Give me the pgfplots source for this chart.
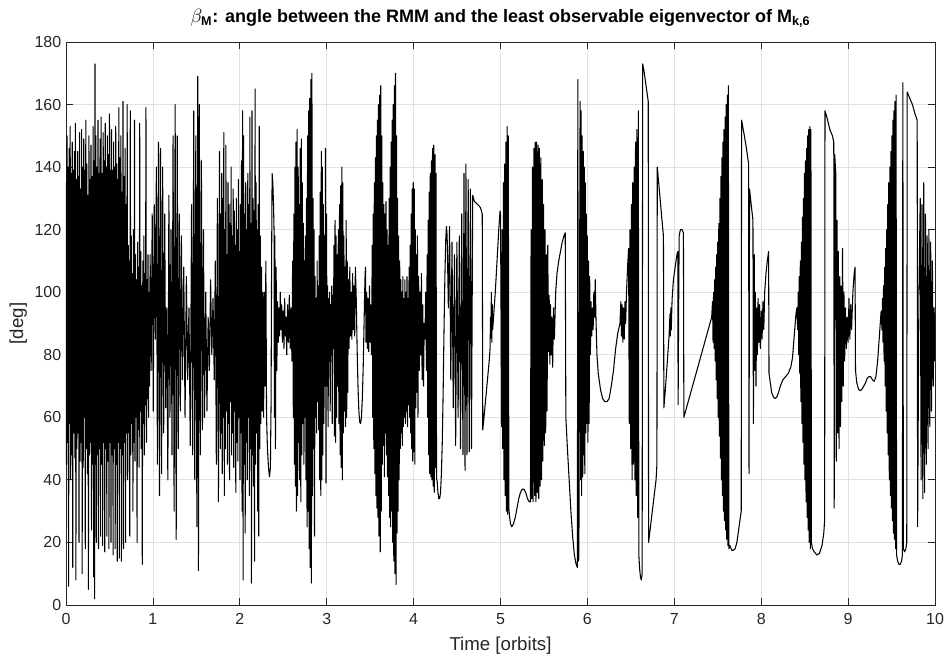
\documentclass[border=0pt]{standalone}
\usepackage{fontspec}
\setmainfont{Liberation Sans}
\usepackage{amsmath}
\usepackage{pgfplots}
\pgfplotsset{compat=1.18}
\definecolor{axgray}{RGB}{38,38,38}
\definecolor{gridgray}{RGB}{225,225,225}
\begin{document}
\begin{tikzpicture}
\begin{axis}[
  scale only axis, width=651.75pt, height=422.25pt,
  xmin=0, xmax=10, ymin=0, ymax=180,
  xtick={0,1,...,10}, ytick={0,20,...,180},
  grid=major, major grid style={gridgray, line width=0.6pt},
  axis line style={axgray, line width=0.6pt},
  tick style={axgray, line width=0.6pt}, tick align=inside, major tick length=5pt,
  ticklabel style={font=\fontsize{12}{14}\selectfont, text=axgray},
  xticklabel style={yshift=-2.5pt},
  /pgf/number format/assume math mode=true,
  xlabel={Time [orbits]}, ylabel={[deg]},
  label style={font=\fontsize{14}{16}\selectfont, text=axgray},
  xlabel style={at={(axis description cs:0.5,-0.072)}, anchor=center},
  ylabel style={at={(axis description cs:-0.055,0.5)}, anchor=center},
  title={$\beta_{\textbf{M}}$: angle between the RMM and the least observable eigenvector of M$_{\textbf{k,6}}$},
  title style={font=\bfseries\fontsize{13.5}{15}\selectfont, at={(axis description cs:0.5,1.021)}, anchor=base},
]
\addplot[black, line width=0.8pt, line join=round] coordinates {
(0.000,135) (0.006,45) (0.012,150) (0.018,52) (0.024,140) (0.030,6) (0.036,146) (0.042,58) (0.048,153) (0.054,40) (0.060,138) (0.066,48) (0.072,148) (0.078,12) (0.084,139) (0.090,55) (0.096,145) (0.102,47) (0.108,154) (0.114,8) (0.120,136) (0.126,50) (0.132,145) (0.138,55) (0.144,137) (0.150,20) (0.156,151) (0.162,46) (0.168,133) (0.174,52) (0.180,152) (0.186,10) (0.192,140) (0.198,44) (0.204,149) (0.210,60) (0.216,139) (0.222,18) (0.228,155) (0.234,50) (0.240,141) (0.246,42) (0.252,131) (0.258,5) (0.264,150) (0.270,48) (0.276,136) (0.282,52) (0.288,147) (0.294,24) (0.300,137) (0.306,45) (0.312,153) (0.318,9) (0.324,142) (0.330,2)
(0.334,173) (0.338,45)
(0.344,150) (0.350,20) (0.356,140) (0.362,48) (0.368,155) (0.374,18) (0.380,138) (0.386,50) (0.392,149) (0.398,22) (0.404,156) (0.410,45) (0.416,138) (0.422,19) (0.428,151) (0.434,52) (0.440,142) (0.446,17) (0.452,154) (0.458,50) (0.464,140) (0.470,22) (0.476,150) (0.482,46) (0.488,144) (0.494,18) (0.500,157) (0.506,52) (0.512,139) (0.518,20) (0.524,152) (0.530,48) (0.536,139) (0.542,16) (0.548,148) (0.554,50) (0.560,140) (0.566,18) (0.572,153) (0.578,45) (0.584,141) (0.590,14) (0.596,136) (0.602,52) (0.608,159) (0.614,15) (0.620,143) (0.626,50) (0.632,150) (0.638,14) (0.644,132) (0.650,48) (0.656,161) (0.662,18) (0.668,137) (0.674,52) (0.680,146) (0.686,20) (0.692,128) (0.698,55)
(0.704,160) (0.710,40) (0.716,115) (0.722,55) (0.728,110) (0.734,22) (0.740,158) (0.746,48) (0.752,118) (0.758,58) (0.764,106) (0.770,30) (0.776,120) (0.782,52) (0.788,155) (0.794,46) (0.800,112) (0.806,60) (0.812,104) (0.818,20) (0.824,116) (0.830,56) (0.836,108) (0.842,44) (0.848,154) (0.854,62) (0.860,113) (0.866,50) (0.872,102) (0.878,13) (0.884,110) (0.890,58) (0.896,118) (0.902,48) (0.908,106) (0.914,64) (0.920,159) (0.926,52) (0.932,104) (0.938,66) (0.944,112) (0.950,60) (0.956,100) (0.962,70)
(0.968,112) (0.980,75) (0.992,125) (1.004,62) (1.016,128) (1.028,85) (1.040,140) (1.052,45) (1.064,148) (1.076,35) (1.088,146) (1.100,42) (1.112,140) (1.124,55) (1.136,125) (1.148,63) (1.160,95) (1.172,40) (1.184,131) (1.196,60) (1.208,120) (1.220,48) (1.232,150) (1.244,30) (1.256,160) (1.268,21) (1.280,150) (1.292,50) (1.304,125) (1.316,62) (1.328,118) (1.340,72) (1.355,108) (1.370,60) (1.385,105) (1.400,72) (1.415,95) (1.430,51) (1.445,128) (1.458,48) (1.470,158) (1.482,40) (1.494,150) (1.506,25) (1.516,169) (1.524,11) (1.534,160) (1.546,48) (1.558,142) (1.570,56) (1.582,120) (1.594,60) (1.608,100) (1.622,62) (1.636,92) (1.650,75) (1.664,104) (1.678,80) (1.692,98) (1.706,72) (1.718,110) (1.730,45) (1.742,130) (1.754,33) (1.766,145) (1.776,50)
(1.780,125) (1.786,55) (1.792,138) (1.798,42) (1.804,130) (1.810,60) (1.816,151) (1.822,35) (1.828,120) (1.834,50) (1.840,147) (1.846,62) (1.852,112) (1.858,45) (1.864,135) (1.870,58) (1.876,128) (1.882,40) (1.888,122) (1.894,65) (1.900,140) (1.906,48) (1.912,118) (1.918,55) (1.924,133) (1.930,44) (1.936,126) (1.942,62) (1.948,115) (1.954,36) (1.960,130) (1.966,52) (1.972,120) (1.978,46) (1.984,136) (1.990,60) (1.996,113) (2.002,40) (2.008,128) (2.014,55) (2.020,142) (2.026,30) (2.032,158) (2.038,8) (2.044,150) (2.050,45) (2.056,125) (2.062,23) (2.068,135) (2.074,52) (2.080,120) (2.086,40) (2.092,138) (2.098,60) (2.104,128) (2.110,35) (2.116,156) (2.122,50) (2.128,122) (2.134,7) (2.140,158) (2.146,48) (2.152,130) (2.158,38) (2.164,126) (2.170,14) (2.176,165) (2.182,45) (2.188,135) (2.194,55) (2.200,120) (2.206,30) (2.212,128) (2.218,22) (2.224,153) (2.230,50) (2.236,118) (2.242,58) (2.250,108) (2.258,62) (2.266,100) (2.274,60)
(2.282,100) (2.290,70) (2.300,110) (2.308,60) (2.318,50) (2.330,44) (2.342,41) (2.352,44) (2.360,65) (2.366,110) (2.372,138) (2.380,135) (2.388,128) (2.394,120) (2.398,60) (2.404,118) (2.410,50) (2.418,108) (2.426,75)
(2.434,97) (2.442,84) (2.450,95) (2.458,86) (2.466,100) (2.474,88) (2.482,96) (2.490,84) (2.500,94) (2.508,82) (2.516,98) (2.524,86) (2.532,92) (2.540,80) (2.550,96) (2.560,84) (2.570,99) (2.580,82) (2.590,95) (2.600,78) (2.608,110)
(2.616,60) (2.622,125) (2.628,45) (2.634,140) (2.640,38) (2.646,148) (2.652,30) (2.660,152) (2.666,35) (2.672,140) (2.678,52) (2.684,128) (2.690,40) (2.696,146) (2.702,33) (2.708,149) (2.714,48) (2.720,135) (2.726,58) (2.732,122) (2.738,45) (2.744,110) (2.750,60) (2.756,118) (2.762,40) (2.768,130) (2.774,25) (2.780,150) (2.786,30) (2.792,158) (2.798,18) (2.804,162) (2.810,12) (2.818,168) (2.824,7) (2.830,170) (2.836,35) (2.842,130) (2.848,50) (2.854,120) (2.860,22) (2.866,105) (2.872,60) (2.878,98) (2.884,55) (2.890,110) (2.896,65) (2.902,102) (2.908,56) (2.914,118) (2.920,40) (2.926,132) (2.932,35) (2.938,145) (2.944,40) (2.950,140) (2.956,48) (2.962,128) (2.968,58) (2.974,118) (2.980,70)
(2.986,146) (2.992,39) (2.998,125) (3.004,70) (3.010,102) (3.016,57) (3.022,98) (3.028,78) (3.034,100) (3.040,62) (3.046,96) (3.052,80) (3.058,102) (3.064,58) (3.070,99) (3.076,82) (3.084,115) (3.090,54) (3.096,123) (3.102,52) (3.108,118) (3.114,60) (3.120,112) (3.126,70) (3.134,120) (3.140,58) (3.148,128) (3.154,48) (3.160,134) (3.166,44) (3.174,140) (3.180,40) (3.186,135) (3.192,55) (3.198,118) (3.204,62) (3.210,108) (3.216,57) (3.224,123) (3.230,60) (3.236,110) (3.242,68) (3.250,104) (3.258,82) (3.266,108) (3.274,86) (3.282,100) (3.290,85) (3.298,106) (3.306,88) (3.314,102) (3.322,86) (3.330,108)
(3.340,98) (3.350,82) (3.360,70) (3.370,62) (3.380,58.5) (3.390,58) (3.400,60) (3.410,66) (3.420,76) (3.430,90) (3.440,104) (3.446,108)
(3.452,84) (3.460,100) (3.468,82) (3.476,98) (3.484,81) (3.492,102) (3.500,84) (3.508,96) (3.516,80)
(3.524,115) (3.530,60) (3.536,125) (3.542,50) (3.548,135) (3.554,42) (3.560,143) (3.566,35) (3.572,150) (3.578,31) (3.584,155) (3.590,28) (3.596,160) (3.602,22) (3.610,163) (3.616,17) (3.622,166) (3.628,30) (3.634,150) (3.640,45) (3.646,135) (3.652,51) (3.658,128) (3.664,41) (3.670,125) (3.676,55) (3.682,129) (3.688,48) (3.694,120) (3.700,41) (3.706,115) (3.712,35) (3.718,130) (3.724,28) (3.730,140) (3.736,25) (3.742,148) (3.748,30) (3.754,155) (3.760,20) (3.766,160) (3.772,14) (3.780,166) (3.786,10) (3.792,170) (3.798,6.5) (3.804,150) (3.810,23) (3.816,130) (3.822,30) (3.828,118) (3.834,40) (3.840,110) (3.846,50) (3.852,104) (3.858,55) (3.864,100) (3.870,51) (3.876,105) (3.882,57) (3.888,98) (3.894,60) (3.900,104) (3.906,58) (3.912,100) (3.918,62) (3.924,105) (3.930,57) (3.936,98) (3.942,64) (3.948,108) (3.954,60) (3.960,115) (3.966,55) (3.972,125) (3.978,50) (3.984,133) (3.990,46) (3.996,135) (4.002,49) (4.008,133) (4.014,45)
(4.020,120) (4.026,63) (4.032,112) (4.038,68) (4.044,118) (4.050,60) (4.058,105) (4.066,75) (4.074,100) (4.082,80) (4.090,106) (4.098,72) (4.106,96) (4.114,70) (4.122,90) (4.130,85) (4.140,100) (4.148,75) (4.156,112) (4.162,60) (4.168,123) (4.174,48) (4.180,132) (4.186,42) (4.192,138) (4.198,41) (4.204,142) (4.210,40) (4.218,146) (4.224,38) (4.232,147) (4.238,36) (4.246,144) (4.252,44) (4.258,138) (4.264,40)
(4.270,40) (4.280,36) (4.290,34) (4.300,34) (4.310,36) (4.320,42) (4.330,52) (4.340,68) (4.350,88) (4.360,105) (4.370,117) (4.378,121)
(4.386,118) (4.400,95) (4.414,121) (4.428,72) (4.442,116) (4.456,63) (4.470,112) (4.484,51) (4.498,116) (4.512,60) (4.526,118) (4.540,50) (4.554,125) (4.568,48) (4.580,138) (4.592,43) (4.602,141) (4.614,48) (4.628,136) (4.640,49) (4.654,133) (4.666,50) (4.680,131)
(4.700,129) (4.740,128) (4.770,127) (4.790,125) (4.796,56) (4.810,60) (4.830,66) (4.850,72) (4.870,78) (4.880,82) (4.885,92) (4.890,86) (4.895,100) (4.900,84) (4.905,96) (4.910,88) (4.920,92) (4.940,100) (4.960,110) (4.980,120) (4.995,126)
(5.000,125) (5.006,95) (5.012,57) (5.020,120) (5.026,50) (5.034,135) (5.040,40) (5.048,141) (5.054,35) (5.062,148) (5.068,30) (5.076,153) (5.082,29) (5.090,150) (5.096,31)
(5.105,28) (5.115,26) (5.130,25) (5.150,26) (5.170,28) (5.190,31) (5.210,34) (5.230,36) (5.250,37) (5.270,37) (5.290,36) (5.310,34) (5.330,33) (5.345,33)
(5.352,120) (5.360,34) (5.368,140) (5.376,33) (5.384,146) (5.392,35) (5.400,148) (5.408,33) (5.416,148) (5.424,36) (5.432,147) (5.440,34) (5.448,146) (5.456,38) (5.464,143) (5.472,40) (5.480,136) (5.488,46) (5.496,128) (5.504,51) (5.512,120) (5.520,55) (5.528,112) (5.536,62) (5.544,115) (5.552,81) (5.560,99) (5.568,77) (5.576,96) (5.584,80) (5.592,92) (5.600,76) (5.610,95) (5.620,85) (5.635,100) (5.650,106) (5.670,110) (5.690,113) (5.710,116) (5.730,118) (5.745,119) (5.752,60) (5.770,50) (5.790,40) (5.810,30) (5.830,22) (5.850,16) (5.870,13) (5.885,12)
(5.890,168) (5.896,14) (5.902,15) (5.910,100) (5.916,161) (5.922,40) (5.928,158) (5.934,35) (5.940,150) (5.946,41) (5.952,145) (5.958,48) (5.964,140) (5.970,42) (5.976,135) (5.982,55) (5.988,125) (5.994,58) (6.000,118) (6.006,52) (6.014,110) (6.020,58) (6.026,105) (6.034,80) (6.042,97) (6.050,86) (6.058,95) (6.066,88) (6.074,100) (6.082,92) (6.090,104)
(6.100,90) (6.110,80) (6.125,74) (6.150,69) (6.175,66) (6.200,65) (6.225,65) (6.250,66) (6.275,70) (6.300,75) (6.325,82) (6.350,87) (6.375,90)
(6.385,97) (6.392,86) (6.400,96) (6.408,84) (6.416,95) (6.424,85) (6.432,97) (6.440,90) (6.450,100) (6.462,108) (6.474,114) (6.482,58) (6.490,120) (6.498,50) (6.506,128) (6.514,40) (6.522,135) (6.530,45) (6.538,140) (6.546,40) (6.554,148) (6.562,35) (6.570,152) (6.578,28) (6.586,158) (6.592,16) (6.600,12) (6.610,9) (6.620,8) (6.630,10) (6.636,173) (6.650,171) (6.665,168) (6.680,165) (6.700,161) (6.704,20) (6.730,26) (6.760,33) (6.790,40) (6.800,45) (6.804,140) (6.830,132) (6.855,124) (6.875,118) (6.880,63) (6.900,70) (6.920,78) (6.940,86) (6.950,93) (6.955,86) (6.960,95) (6.965,88) (6.975,98) (6.990,104) (7.010,108) (7.030,112) (7.040,113) (7.044,64) (7.050,95) (7.056,118) (7.070,120) (7.090,120) (7.105,119) (7.110,60)
(7.130,62) (7.160,65) (7.190,68) (7.220,71) (7.250,74) (7.280,77) (7.310,80) (7.340,83) (7.370,86) (7.400,89) (7.430,92)
(7.440,97) (7.446,84) (7.452,100) (7.458,82) (7.464,104) (7.470,78) (7.476,108) (7.482,72) (7.488,112) (7.494,66) (7.500,116) (7.506,60) (7.512,122) (7.518,54) (7.524,130) (7.530,47) (7.536,137) (7.542,40) (7.548,143) (7.554,35) (7.560,148) (7.566,30) (7.572,152) (7.578,27) (7.584,156) (7.590,24) (7.596,160) (7.602,21) (7.610,163) (7.616,19) (7.622,166) (7.628,18)
(7.640,19) (7.660,17.5) (7.680,17.5) (7.700,18) (7.720,20) (7.740,24) (7.760,28) (7.770,30) (7.774,155) (7.800,151) (7.830,146) (7.855,141) (7.860,42) (7.866,133) (7.885,128) (7.905,123) (7.910,58) (7.920,112) (7.926,75) (7.932,100) (7.940,70) (7.948,95) (7.956,80) (7.964,98) (7.972,84) (7.980,96) (7.990,82) (8.000,94) (8.010,85) (8.020,97) (8.030,88) (8.040,100) (8.055,106) (8.070,110) (8.085,113) (8.090,74)
(8.100,72) (8.120,68) (8.140,66.5) (8.160,66) (8.180,66.5) (8.200,68) (8.220,70) (8.250,72) (8.280,73) (8.310,74) (8.340,76) (8.360,79) (8.380,86) (8.400,93) (8.410,95)
(8.420,88) (8.426,100) (8.432,80) (8.438,105) (8.444,74) (8.450,110) (8.456,65) (8.462,116) (8.468,58) (8.474,124) (8.480,52) (8.486,130) (8.492,45) (8.498,138) (8.504,40) (8.510,142) (8.516,33) (8.522,146) (8.528,28) (8.534,150) (8.540,24) (8.546,152) (8.552,20) (8.560,153) (8.566,18)
(8.572,152) (8.578,20) (8.590,18) (8.610,17) (8.640,16) (8.670,16.5) (8.700,19) (8.720,23) (8.730,27) (8.734,158) (8.760,155.5) (8.790,152) (8.820,150) (8.835,148) (8.840,31) (8.846,144) (8.858,138) (8.864,46) (8.872,123) (8.880,55) (8.888,113) (8.896,50) (8.904,105) (8.912,57) (8.920,102) (8.928,65)
(8.936,114) (8.944,70) (8.952,100) (8.960,78) (8.970,95) (8.980,82) (8.990,92) (9.000,84) (9.010,98) (9.020,85) (9.030,96) (9.040,88) (9.055,100) (9.070,106) (9.080,108) (9.085,75)
(9.100,71) (9.120,69) (9.140,68.5) (9.160,69) (9.180,70) (9.200,71) (9.220,72.5) (9.240,73) (9.260,73) (9.280,72) (9.300,71.5) (9.320,73) (9.340,78) (9.360,86) (9.380,94)
(9.390,88) (9.396,98) (9.402,84) (9.408,102) (9.414,78) (9.420,108) (9.426,70) (9.432,114) (9.438,62) (9.444,120) (9.450,55) (9.456,128) (9.462,48) (9.468,135) (9.474,40) (9.480,140) (9.486,35) (9.492,145) (9.498,31) (9.504,150) (9.510,27) (9.516,155) (9.522,23) (9.528,158) (9.534,21) (9.540,161) (9.546,18)
(9.552,163) (9.558,16) (9.570,14) (9.585,13) (9.600,13) (9.615,14) (9.625,16) (9.630,167) (9.636,18) (9.650,17) (9.665,18) (9.675,20) (9.680,164) (9.710,162) (9.740,160) (9.770,157) (9.795,155) (9.800,25) (9.815,100) (9.830,130) (9.840,40) (9.850,128) (9.860,34) (9.870,135) (9.880,36) (9.890,125) (9.900,45) (9.910,118) (9.920,50) (9.930,120) (9.940,57) (9.950,116) (9.960,62) (9.970,110) (9.980,70) (9.990,95) (10.000,78)
};
\end{axis}
\pgfresetboundingbox
\path[use as bounding box] ([xshift=-49.5pt,yshift=-40.5pt]current axis.south west) rectangle ([xshift=8.25pt,yshift=31.5pt]current axis.north east);
\end{tikzpicture}
\end{document}
